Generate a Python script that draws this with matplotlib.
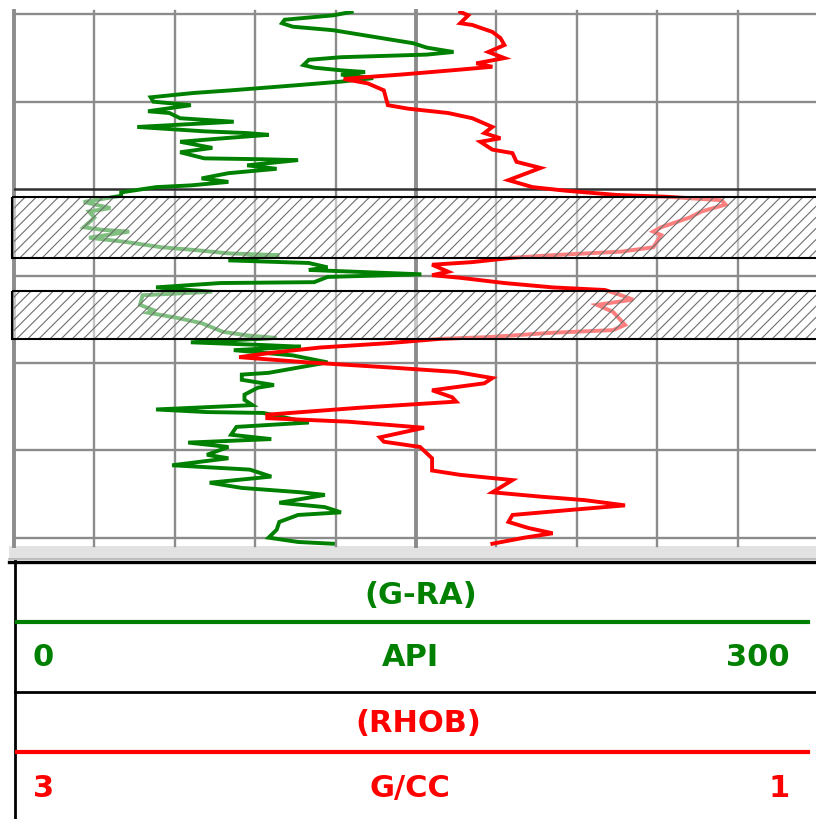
import numpy as np
import matplotlib
matplotlib.use('Agg')
import matplotlib.pyplot as plt
from matplotlib.patches import Rectangle

# Gamma ray log: depth (m) and value (API)
gr_depth = np.array([
    999.7, 1000.1, 1000.6, 1001.0, 1001.4, 1001.8, 1002.7, 1003.3, 1003.8, 1004.3,
    1004.6, 1004.9, 1005.2, 1005.8, 1006.1, 1006.4, 1006.6, 1006.9, 1007.3, 1007.7,
    1008.1, 1008.7, 1009.0, 1009.5, 1010.0, 1010.4, 1011.1, 1011.3, 1011.9, 1012.3,
    1012.9, 1013.4, 1013.6, 1013.8, 1014.2, 1014.6, 1015.3, 1015.8, 1016.5, 1016.6,
    1016.7, 1017.3, 1017.7, 1018.2, 1018.8, 1019.2, 1019.6, 1019.8, 1020.4, 1020.8,
    1021.5, 1022.2, 1022.6, 1023.3, 1024.4, 1024.7, 1024.9, 1025.6, 1026.1, 1026.7,
    1027.0, 1027.4, 1027.6, 1028.2, 1028.5, 1029.0, 1029.3, 1029.8, 1030.1, 1030.7,
    1030.8, 1031.3, 1031.8, 1032.2, 1033.3, 1033.9, 1034.2, 1034.8, 1035.4, 1036.4,
    1036.8, 1037.1, 1037.6, 1037.9, 1038.1, 1038.5, 1039.1, 1039.9, 1040.5, 1041.1,
    1041.3, 1041.9, 1042.5, 1042.8, 1043.6, 1044.2, 1044.8, 1045.3, 1045.6, 1045.7,
    1046.8, 1047.3, 1048.2, 1048.7, 1049.1, 1049.6, 1050.5, 1050.9, 1051.7, 1052.2,
    1053.0, 1053.7, 1054.3, 1054.8, 1055.1, 1056.0, 1056.5, 1057.1, 1057.4, 1058.2,
    1059.1, 1060.0, 1060.5, 1060.7])
gr_api = np.array([
    126, 119, 101, 100, 104, 119, 137, 149, 154, 164,
    154, 122, 110, 108, 112, 122, 131, 122, 134, 122,
    106, 81, 67, 51, 52, 66, 50, 58, 62, 82,
    46, 71, 87, 95, 78, 62, 74, 62, 71, 92,
    106, 87, 98, 80, 70, 80, 66, 53, 40, 40,
    26, 36, 28, 30, 26, 33, 43, 28, 42, 55,
    67, 80, 99, 80, 110, 117, 110, 152, 117, 112,
    77, 53, 74, 48, 47, 52, 50, 61, 70, 78,
    87, 98, 66, 92, 107, 82, 104, 117, 106, 95,
    85, 85, 97, 91, 86, 86, 89, 53, 72, 93,
    110, 83, 81, 96, 65, 80, 72, 80, 59, 88,
    96, 73, 85, 107, 116, 99, 116, 122, 106, 99,
    98, 95, 106, 119])

# Bulk density log: depth (m) and value (g/cc)
rhob_depth = np.array([
    999.7, 1000.1, 1001.0, 1001.2, 1002.0, 1002.7, 1003.5, 1004.3, 1005.0, 1005.6,
    1006.0, 1006.4, 1006.9, 1007.2, 1007.4, 1007.9, 1008.7, 1010.4, 1010.8, 1011.3,
    1011.9, 1012.9, 1013.6, 1014.2, 1014.6, 1015.5, 1015.9, 1016.9, 1017.6, 1019.0,
    1019.8, 1020.2, 1020.7, 1020.9, 1021.3, 1021.8, 1022.6, 1023.3, 1024.4, 1024.9,
    1025.3, 1026.7, 1027.2, 1027.6, 1027.9, 1028.4, 1028.7, 1029.5, 1029.9, 1030.2,
    1030.8, 1031.3, 1031.6, 1032.2, 1032.7, 1033.3, 1034.1, 1035.6, 1036.2, 1036.5,
    1037.0, 1037.2, 1037.7, 1038.2, 1038.8, 1039.3, 1039.9, 1040.5, 1041.0, 1041.7,
    1042.3, 1043.1, 1043.9, 1044.4, 1045.1, 1045.9, 1046.3, 1046.7, 1047.1, 1047.4,
    1048.5, 1049.0, 1049.6, 1050.9, 1052.3, 1052.8, 1053.4, 1054.8, 1055.3, 1055.7,
    1056.3, 1056.8, 1057.4, 1058.2, 1058.9, 1059.5, 1060.0, 1060.7])
rhob_gcc = np.array([
    1.89, 1.87, 1.89, 1.86, 1.81, 1.79, 1.78, 1.82, 1.78, 1.85,
    1.81, 1.91, 2.04, 2.13, 2.18, 2.12, 2.08, 2.07, 2.02, 1.92,
    1.86, 1.81, 1.83, 1.79, 1.84, 1.81, 1.76, 1.75, 1.69, 1.77,
    1.71, 1.63, 1.50, 1.38, 1.24, 1.23, 1.29, 1.32, 1.39, 1.41,
    1.39, 1.41, 1.49, 1.66, 1.76, 1.86, 1.96, 1.92, 1.96, 1.89,
    1.78, 1.66, 1.53, 1.49, 1.46, 1.55, 1.51, 1.48, 1.51, 1.66,
    1.82, 1.94, 2.07, 2.24, 2.36, 2.44, 2.27, 2.06, 1.90, 1.81,
    1.83, 1.96, 1.91, 1.90, 2.14, 2.37, 2.37, 2.17, 2.06, 1.98,
    2.09, 2.08, 1.99, 1.96, 1.96, 1.89, 1.76, 1.81, 1.69, 1.58,
    1.48, 1.61, 1.76, 1.77, 1.72, 1.66, 1.73, 1.81])

# hatched zones (top, base) in m
zone_tops = [1020.9, 1031.7]
zone_bases = [1027.9, 1037.2]

gr_scale = (0, 300)
rhob_scale = (3, 1)
depth_top, depth_base = 999.6, 1060.96
grid_depths = np.arange(1000, 1061, 10)

GREEN = '#008000'
RED = '#ff0000'
GRID = '#8c8c8c'

plt.rcParams['hatch.linewidth'] = 0.8

W, H = 816, 819
fig = plt.figure(figsize=(W / 100, H / 100), dpi=100)

# overlay in pixel units for the header box
deco = fig.add_axes([0, 0, 1, 1])
deco.set_xlim(0, W)
deco.set_ylim(H, 0)
deco.axis('off')

# log track
ax = fig.add_axes([14 / W, 1 - 546 / H, 804 / W, 535 / H])
ax.set_xlim(*gr_scale)
ax.set_ylim(depth_base, depth_top)
ax.set_xticks([])
ax.set_yticks([])
for s in ax.spines.values():
    s.set_visible(False)

for v in np.linspace(gr_scale[0], gr_scale[1], 11):
    thick = v in (0, 150)
    ax.axvline(v, color=GRID, lw=2.8 if thick else 1.7, zorder=1, clip_on=False)
for d in grid_depths:
    if d == 1020:
        ax.axhline(d, color='#303030', lw=1.8, zorder=1)
    else:
        ax.axhline(d, color=GRID, lw=1.7, zorder=1)

ax.plot(gr_api, gr_depth, color=GREEN, lw=2.8, zorder=3, solid_joinstyle='miter')

ax2 = ax.twiny()
ax2.set_xlim(*rhob_scale)
ax2.set_ylim(depth_base, depth_top)
ax2.axis('off')
ax2.plot(rhob_gcc, rhob_depth, color=RED, lw=2.8, zorder=3, solid_joinstyle='miter')

for top, base in zip(zone_tops, zone_bases):
    ax2.axhspan(top, base, xmin=-0.002, xmax=1, facecolor=(1, 1, 1, 0.5),
                edgecolor='#6e6e6e', hatch='///', lw=0, zorder=4)
    ax2.axhspan(top, base, xmin=-0.002, xmax=1, fill=False, edgecolor='black',
                lw=1.5, zorder=5, clip_on=False)

# separator bar under the track
deco.add_patch(Rectangle((9, 546), W - 9, 13, facecolor='#e2e2e2', edgecolor='none'))
deco.plot([9, W], [558.5, 558.5], color='#b4b4b4', lw=1.2)
deco.plot([9, W], [561.5, 561.5], color='black', lw=2.4)
deco.plot([15, 15], [561, H], color='black', lw=2.0)

# header
tk = dict(fontfamily='DejaVu Sans', fontweight='bold', fontsize=22, va='baseline')
deco.text(421, 604, '(G-RA)', color=GREEN, ha='center', **tk)
deco.plot([17, 808], [621.5, 621.5], color=GREEN, lw=3.0)
deco.text(33, 666, '0', color=GREEN, ha='left', **tk)
deco.text(410, 666, 'API', color=GREEN, ha='center', **tk)
deco.text(790, 666, '300', color=GREEN, ha='right', **tk)
deco.plot([15, W], [692, 692], color='black', lw=2.0)
deco.text(418, 732, '(RHOB)', color=RED, ha='center', **tk)
deco.plot([17, 808], [752, 752], color=RED, lw=3.0)
deco.text(33, 797, '3', color=RED, ha='left', **tk)
deco.text(410, 797, 'G/CC', color=RED, ha='center', **tk)
deco.text(790, 797, '1', color=RED, ha='right', **tk)

fig.savefig('out.png', dpi=100)
